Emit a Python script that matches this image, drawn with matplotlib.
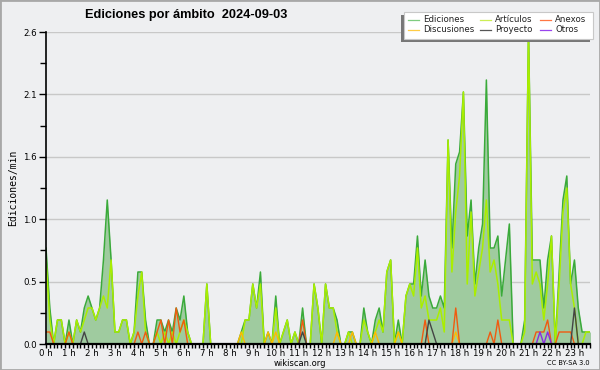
import numpy as np
import matplotlib
matplotlib.use("Agg")
import matplotlib.pyplot as plt
from matplotlib.patches import Rectangle
from matplotlib.lines import Line2D

# 10-minute slots, 0h00 .. 23h50 (value = edits per minute)
ediciones = [
    0.8, 0.3, 0.0, 0.2, 0.2, 0.0, 0.2, 0.0, 0.2, 0.1,
    0.3, 0.4, 0.3, 0.2, 0.3, 0.7, 1.2, 0.7, 0.1, 0.1,
    0.2, 0.2, 0.0, 0.1, 0.6, 0.6, 0.2, 0.0, 0.0, 0.2,
    0.2, 0.1, 0.2, 0.1, 0.3, 0.2, 0.4, 0.1, 0.0, 0.0,
    0.0, 0.0, 0.5, 0.0, 0.0, 0.0, 0.0, 0.0, 0.0, 0.0,
    0.0, 0.1, 0.2, 0.2, 0.5, 0.3, 0.6, 0.0, 0.1, 0.0,
    0.4, 0.0, 0.1, 0.2, 0.0, 0.1, 0.0, 0.3, 0.0, 0.0,
    0.5, 0.3, 0.0, 0.5, 0.3, 0.3, 0.2, 0.0, 0.0, 0.1,
    0.1, 0.0, 0.0, 0.3, 0.1, 0.0, 0.2, 0.3, 0.1, 0.6,
    0.7, 0.0, 0.2, 0.0, 0.4, 0.5, 0.5, 0.9, 0.4, 0.7,
    0.4, 0.3, 0.3, 0.4, 0.3, 1.7, 0.8, 1.5, 1.6, 2.1,
    0.9, 1.2, 0.5, 0.8, 1.0, 2.2, 0.8, 0.8, 0.9, 0.4,
    0.7, 1.0, 0.0, 0.0, 0.0, 0.2, 2.6, 0.7, 0.7, 0.7,
    0.3, 0.7, 0.9, 0.0, 0.6, 1.2, 1.4, 0.5, 0.7, 0.3,
    0.1, 0.1, 0.1, 0.1]

articulos = [
    0.7, 0.2, 0.0, 0.2, 0.2, 0.0, 0.1, 0.0, 0.2, 0.1,
    0.2, 0.3, 0.3, 0.2, 0.3, 0.4, 0.3, 0.7, 0.1, 0.1,
    0.2, 0.2, 0.0, 0.1, 0.4, 0.6, 0.1, 0.0, 0.0, 0.1,
    0.0, 0.1, 0.0, 0.1, 0.0, 0.1, 0.2, 0.1, 0.0, 0.0,
    0.0, 0.0, 0.5, 0.0, 0.0, 0.0, 0.0, 0.0, 0.0, 0.0,
    0.0, 0.0, 0.2, 0.2, 0.5, 0.3, 0.5, 0.0, 0.0, 0.0,
    0.3, 0.0, 0.1, 0.2, 0.0, 0.1, 0.0, 0.0, 0.0, 0.0,
    0.5, 0.3, 0.0, 0.5, 0.3, 0.3, 0.1, 0.0, 0.0, 0.1,
    0.0, 0.0, 0.0, 0.2, 0.1, 0.0, 0.1, 0.2, 0.1, 0.6,
    0.7, 0.0, 0.1, 0.0, 0.4, 0.5, 0.4, 0.8, 0.3, 0.4,
    0.2, 0.2, 0.2, 0.3, 0.1, 1.7, 0.6, 1.1, 1.4, 2.1,
    0.5, 1.1, 0.4, 0.6, 0.8, 1.2, 0.6, 0.7, 0.5, 0.2,
    0.2, 0.2, 0.0, 0.0, 0.0, 0.1, 2.6, 0.5, 0.6, 0.5,
    0.2, 0.5, 0.9, 0.0, 0.5, 1.1, 1.3, 0.5, 0.3, 0.0,
    0.0, 0.1, 0.1, 0.1]

anexos = [
    0.1, 0.1, 0.0, 0.0, 0.0, 0.0, 0.1, 0.0, 0.0, 0.0,
    0.0, 0.0, 0.0, 0.0, 0.0, 0.0, 0.0, 0.0, 0.0, 0.0,
    0.0, 0.0, 0.0, 0.0, 0.1, 0.0, 0.1, 0.0, 0.0, 0.1,
    0.2, 0.0, 0.2, 0.0, 0.3, 0.1, 0.2, 0.0, 0.0, 0.0,
    0.0, 0.0, 0.0, 0.0, 0.0, 0.0, 0.0, 0.0, 0.0, 0.0,
    0.0, 0.0, 0.0, 0.0, 0.0, 0.0, 0.0, 0.0, 0.0, 0.0,
    0.0, 0.0, 0.0, 0.0, 0.0, 0.0, 0.0, 0.2, 0.0, 0.0,
    0.0, 0.0, 0.0, 0.0, 0.0, 0.0, 0.0, 0.0, 0.0, 0.0,
    0.0, 0.0, 0.0, 0.0, 0.0, 0.0, 0.0, 0.0, 0.0, 0.0,
    0.0, 0.0, 0.0, 0.0, 0.0, 0.0, 0.0, 0.0, 0.0, 0.2,
    0.0, 0.0, 0.0, 0.0, 0.0, 0.0, 0.0, 0.3, 0.0, 0.0,
    0.0, 0.0, 0.0, 0.0, 0.0, 0.0, 0.1, 0.0, 0.2, 0.0,
    0.0, 0.0, 0.0, 0.0, 0.0, 0.0, 0.0, 0.0, 0.1, 0.1,
    0.1, 0.2, 0.0, 0.0, 0.1, 0.1, 0.1, 0.1, 0.0, 0.0,
    0.0, 0.0, 0.0, 0.0]

discusiones = [
    0.0, 0.0, 0.0, 0.0, 0.0, 0.0, 0.0, 0.0, 0.0, 0.0,
    0.0, 0.0, 0.0, 0.0, 0.0, 0.0, 0.0, 0.0, 0.0, 0.0,
    0.0, 0.0, 0.0, 0.0, 0.0, 0.0, 0.0, 0.0, 0.0, 0.0,
    0.0, 0.0, 0.0, 0.0, 0.0, 0.0, 0.0, 0.0, 0.0, 0.0,
    0.0, 0.0, 0.0, 0.0, 0.0, 0.0, 0.0, 0.0, 0.0, 0.0,
    0.0, 0.1, 0.0, 0.0, 0.0, 0.0, 0.0, 0.0, 0.1, 0.0,
    0.1, 0.0, 0.0, 0.0, 0.0, 0.0, 0.0, 0.0, 0.0, 0.0,
    0.0, 0.0, 0.0, 0.0, 0.0, 0.0, 0.1, 0.0, 0.0, 0.0,
    0.1, 0.0, 0.0, 0.0, 0.0, 0.0, 0.1, 0.0, 0.0, 0.0,
    0.0, 0.0, 0.1, 0.0, 0.0, 0.0, 0.0, 0.0, 0.0, 0.0,
    0.0, 0.0, 0.0, 0.0, 0.0, 0.0, 0.0, 0.1, 0.0, 0.0,
    0.0, 0.0, 0.0, 0.0, 0.0, 0.0, 0.0, 0.0, 0.0, 0.0,
    0.0, 0.0, 0.0, 0.0, 0.0, 0.0, 0.0, 0.0, 0.0, 0.0,
    0.0, 0.0, 0.0, 0.0, 0.0, 0.0, 0.0, 0.0, 0.0, 0.0,
    0.0, 0.0, 0.0, 0.0]

proyecto = [
    0.0, 0.0, 0.0, 0.0, 0.0, 0.0, 0.0, 0.0, 0.0, 0.0,
    0.1, 0.0, 0.0, 0.0, 0.0, 0.0, 0.0, 0.0, 0.0, 0.0,
    0.0, 0.0, 0.0, 0.0, 0.0, 0.0, 0.0, 0.0, 0.0, 0.0,
    0.0, 0.0, 0.0, 0.0, 0.0, 0.0, 0.0, 0.0, 0.0, 0.0,
    0.0, 0.0, 0.0, 0.0, 0.0, 0.0, 0.0, 0.0, 0.0, 0.0,
    0.0, 0.0, 0.0, 0.0, 0.0, 0.0, 0.0, 0.0, 0.0, 0.0,
    0.0, 0.0, 0.0, 0.0, 0.0, 0.0, 0.0, 0.1, 0.0, 0.0,
    0.0, 0.0, 0.0, 0.0, 0.0, 0.0, 0.0, 0.0, 0.0, 0.0,
    0.0, 0.0, 0.0, 0.0, 0.0, 0.0, 0.0, 0.0, 0.0, 0.0,
    0.0, 0.0, 0.0, 0.0, 0.0, 0.0, 0.0, 0.0, 0.0, 0.0,
    0.2, 0.1, 0.0, 0.0, 0.0, 0.0, 0.0, 0.0, 0.0, 0.0,
    0.0, 0.0, 0.0, 0.0, 0.0, 0.0, 0.0, 0.0, 0.0, 0.0,
    0.0, 0.0, 0.0, 0.0, 0.0, 0.0, 0.0, 0.0, 0.0, 0.0,
    0.0, 0.0, 0.0, 0.0, 0.0, 0.0, 0.0, 0.0, 0.3, 0.0,
    0.0, 0.0, 0.0, 0.0]

otros = [
    0.0, 0.0, 0.0, 0.0, 0.0, 0.0, 0.0, 0.0, 0.0, 0.0,
    0.0, 0.0, 0.0, 0.0, 0.0, 0.0, 0.0, 0.0, 0.0, 0.0,
    0.0, 0.0, 0.0, 0.0, 0.0, 0.0, 0.0, 0.0, 0.0, 0.0,
    0.0, 0.0, 0.0, 0.0, 0.0, 0.0, 0.0, 0.0, 0.0, 0.0,
    0.0, 0.0, 0.0, 0.0, 0.0, 0.0, 0.0, 0.0, 0.0, 0.0,
    0.0, 0.0, 0.0, 0.0, 0.0, 0.0, 0.0, 0.0, 0.0, 0.0,
    0.0, 0.0, 0.0, 0.0, 0.0, 0.0, 0.0, 0.0, 0.0, 0.0,
    0.0, 0.0, 0.0, 0.0, 0.0, 0.0, 0.0, 0.0, 0.0, 0.0,
    0.0, 0.0, 0.0, 0.0, 0.0, 0.0, 0.0, 0.0, 0.0, 0.0,
    0.0, 0.0, 0.0, 0.0, 0.0, 0.0, 0.0, 0.0, 0.0, 0.0,
    0.0, 0.0, 0.0, 0.0, 0.0, 0.0, 0.0, 0.0, 0.0, 0.0,
    0.0, 0.0, 0.0, 0.0, 0.0, 0.0, 0.0, 0.0, 0.0, 0.0,
    0.0, 0.0, 0.0, 0.0, 0.0, 0.0, 0.0, 0.0, 0.0, 0.1,
    0.0, 0.1, 0.0, 0.0, 0.0, 0.0, 0.0, 0.0, 0.0, 0.0,
    0.0, 0.0, 0.0, 0.0]

hours = np.arange(len(ediciones)) / 6.0
hour_labels = ["%d h" % h for h in range(24)]
y_ticks = [0.0, 0.52, 1.04, 1.56, 2.08, 2.6]

bg = "#eeeff1"
fig = plt.figure(figsize=(6, 3.7), dpi=100)
fig.patch.set_facecolor(bg)
ax = fig.add_axes([46 / 600, 26 / 370, 544 / 600, 312 / 370])
ax.set_facecolor(bg)

ax.fill_between(hours, ediciones, color="#9fcb9f", lw=0, zorder=2)
ax.plot(hours, ediciones, color="#3aaa3a", lw=1.1, zorder=3)
ax.plot(hours, articulos, color="#aaee00", lw=1.1, zorder=4)
ax.plot(hours, discusiones, color="#ffbb00", lw=1.0, zorder=5)
ax.plot(hours, anexos, color="#f05a10", lw=1.0, zorder=6)
ax.plot(hours, proyecto, color="#444444", lw=1.0, zorder=7)
ax.plot(hours, otros, color="#8a2be2", lw=1.0, zorder=8)

ax.set_xlim(0, 142 / 6 + 0.01)
ax.set_ylim(0, 2.6)

ax.set_xticks(range(24))
ax.set_xticklabels(hour_labels)
ax.set_xticks(hours[:143], minor=True)
ax.set_yticks(y_ticks)
ax.set_yticklabels(["%.1f" % v for v in y_ticks])
ax.set_yticks([0.26, 0.78, 1.30, 1.82, 2.34], minor=True)
ax.tick_params(axis="both", which="both", direction="out", color="black",
               labelsize=6.2, width=1)
ax.tick_params(axis="x", which="both", length=3, pad=0.3)
ax.tick_params(axis="y", which="major", length=5, pad=1.5)
ax.tick_params(axis="y", which="minor", length=4)

ax.yaxis.grid(True, color="#c8c8c8", lw=1)
ax.set_axisbelow(True)
for s in ["top", "right"]:
    ax.spines[s].set_visible(False)
ax.spines["left"].set_linewidth(1.2)
ax.spines["bottom"].set_linewidth(1.6)
ax.spines["left"].set_zorder(10)
ax.spines["bottom"].set_zorder(10)

ax.set_ylabel("Ediciones/min", family="DejaVu Sans Mono", fontsize=7, labelpad=4)

fig.text(85 / 600, 1 - 15 / 370, "Ediciones por ámbito  2024-09-03",
         family="Liberation Sans", fontsize=9.2, fontweight="bold",
         va="center", ha="left")
fig.text(0.5, 1 - 363.5 / 370, "wikiscan.org", fontsize=6, ha="center", va="center")
fig.text(590 / 600, 1 - 363 / 370, "CC BY-SA 3.0", fontsize=4.8, ha="right", va="center")

# legend box with shadow (pixel coords -> figure fraction)
def fx(px):
    return px / 600

def fy(py):
    return 1 - py / 370

fig.patches.append(Rectangle((fx(401), fy(41.5)), fx(590) - fx(401), fy(15) - fy(41.5),
                             transform=fig.transFigure, facecolor="#777777",
                             edgecolor="none", zorder=20))
fig.patches.append(Rectangle((fx(404), fy(39)), fx(592.5) - fx(404), fy(12) - fy(39),
                             transform=fig.transFigure, facecolor="white",
                             edgecolor="#c8c8c8", lw=0.8, zorder=21))
legend_names = ["Ediciones", "Discusiones", "Artículos", "Proyecto", "Anexos", "Otros"]
legend_colors = ["#7fcc7f", "#ffcc44", "#ccee55", "#555555", "#ff7744", "#9944ee"]
col_x = [408, 408, 480, 480, 540, 540]
row_y = [19.5, 29.5, 19.5, 29.5, 19.5, 29.5]
for name, c, lx, ly in zip(legend_names, legend_colors, col_x, row_y):
    fig.lines.append(Line2D([fx(lx), fx(lx + 11)], [fy(ly), fy(ly)],
                            transform=fig.transFigure, color=c, lw=0.9, zorder=22))
    fig.text(fx(lx + 15), fy(ly), name, fontsize=6.2, va="center", ha="left",
             color="#222222", zorder=23)

fig.patches.append(Rectangle((0, 0), 1, 1, transform=fig.transFigure, fill=False,
                             edgecolor="#a8a8a8", lw=2, zorder=30))

fig.savefig("out.png", dpi=100, facecolor=bg)
